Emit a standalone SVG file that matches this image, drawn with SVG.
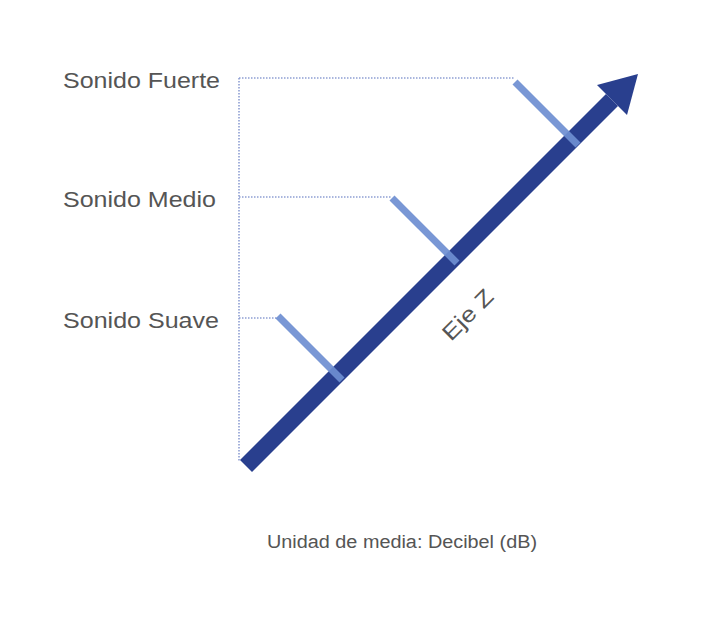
<svg xmlns="http://www.w3.org/2000/svg" width="723" height="619" viewBox="0 0 723 619">
<style>
.lbl{font-family:"Liberation Sans",Arial,sans-serif;fill:#555;}
.guide{stroke:#8e9fd3;stroke-width:1.6;stroke-dasharray:1.5 1.5;fill:none;}
.tick{stroke:#6e8fd2;stroke-width:7;stroke-linecap:butt;opacity:0.92;}
</style>
<rect width="723" height="619" fill="#ffffff"/>
<g id="guides">
<line class="guide" x1="239" y1="78" x2="239" y2="462"/>
<line class="guide" x1="239" y1="78" x2="515" y2="78"/>
<line class="guide" x1="239" y1="197" x2="391" y2="197"/>
<line class="guide" x1="239" y1="318" x2="278" y2="318"/>
</g>
<g id="axis">
<line x1="246" y1="466" x2="612" y2="100" stroke="#293f8e" stroke-width="17"/>
<polygon points="638,74 597,85 627,115" fill="#293f8e"/>
<text class="lbl" x="0" y="0" font-size="22" textLength="62" lengthAdjust="spacingAndGlyphs" text-anchor="middle" transform="translate(473,320) rotate(-45)">Eje Z</text>
</g>
<g id="connectors">
<line class="tick" x1="515" y1="82" x2="578" y2="145"/>
<line class="tick" x1="392" y1="198" x2="457" y2="263"/>
<line class="tick" x1="278" y1="316" x2="342" y2="380"/>
</g>
<g id="label-fuerte"><text class="lbl" x="63" y="88" font-size="22" textLength="157" lengthAdjust="spacingAndGlyphs">Sonido Fuerte</text></g>
<g id="label-medio"><text class="lbl" x="63" y="207" font-size="22" textLength="153" lengthAdjust="spacingAndGlyphs">Sonido Medio</text></g>
<g id="label-suave"><text class="lbl" x="63" y="328" font-size="22" textLength="156" lengthAdjust="spacingAndGlyphs">Sonido Suave</text></g>
<g id="caption"><text class="lbl" x="267" y="548" font-size="18" textLength="270" lengthAdjust="spacingAndGlyphs">Unidad de media: Decibel (dB)</text></g>
</svg>
